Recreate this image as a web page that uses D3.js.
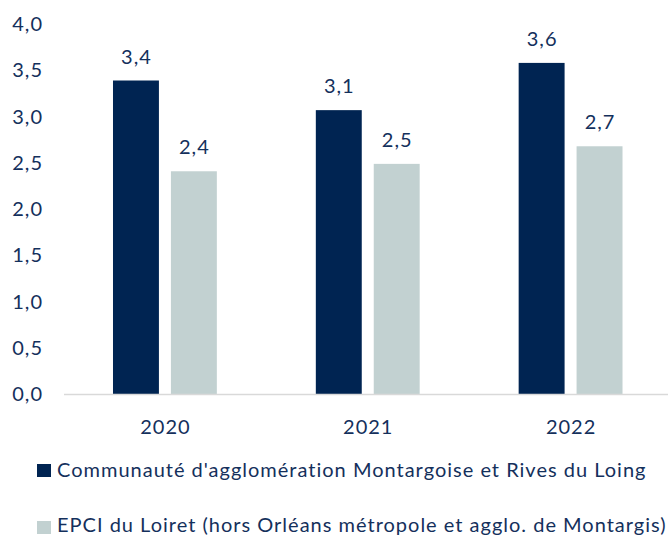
<!DOCTYPE html>
<html>
<head>
<meta charset="utf-8">
<script src="https://cdn.jsdelivr.net/npm/d3@7"></script>
<style>
  body { margin: 0; background: #fff; }
  svg text { font-family: Lato, "Open Sans", sans-serif; fill: #14305c; letter-spacing: 1px; }
</style>
</head>
<body>
<div id="chart"></div>
<script>
const years = ["2020", "2021", "2022"];
const seriesNames = [
    "Communauté d'agglomération Montargoise et Rives du Loing",
    "EPCI du Loiret (hors Orléans métropole et agglo. de Montargis)"
];
const agglo = [3.39, 3.07, 3.58];
const epci = [2.41, 2.49, 2.68];
const yTicks = [0, 0.5, 1, 1.5, 2, 2.5, 3, 3.5, 4];
const colors = ["#002452", "#c2d1d1"];

const width = 668, height = 536;
const fontSize = 20;

const svg = d3.select("#chart").append("svg")
    .attr("width", width)
    .attr("height", height);

const fmt = v => d3.format(".1f")(v).replace(".", ",");

const x0 = d3.scaleBand()
    .domain(years)
    .range([63.5, 672])
    .paddingInner(0.488)
    .paddingOuter(0.244);

const x1 = d3.scaleBand()
    .domain([0, 1])
    .range([0, x0.bandwidth()])
    .paddingInner(0.207);

const y = d3.scaleLinear()
    .domain([0, 4])
    .range([394.5, 24]);

const data = years.map((yr, i) => ({year: yr, values: [agglo[i], epci[i]]}));

// y tick labels only, no axis line
const yAxis = svg.append("g")
    .attr("transform", "translate(43,0)")
    .call(d3.axisLeft(y).tickValues(yTicks).tickFormat(fmt).tickSize(0).tickPadding(0));
yAxis.select(".domain").remove();
yAxis.selectAll("text")
    .attr("font-size", fontSize)
    .attr("font-family", null)
    .attr("fill", null);

// bars
const groups = svg.append("g")
    .selectAll("g")
    .data(data)
    .join("g")
    .attr("transform", d => `translate(${x0(d.year)},0)`);

groups.selectAll("rect")
    .data(d => d.values.map((v, k) => ({k, v})))
    .join("rect")
    .attr("x", d => x1(d.k))
    .attr("y", d => y(d.v))
    .attr("width", x1.bandwidth())
    .attr("height", d => y(0) - y(d.v))
    .attr("fill", d => colors[d.k]);

groups.selectAll("text.val")
    .data(d => d.values.map((v, k) => ({k, v})))
    .join("text")
    .attr("class", "val")
    .attr("x", d => x1(d.k) + x1.bandwidth() / 2 + 0.5)
    .attr("y", d => y(d.v) - 17)
    .attr("text-anchor", "middle")
    .attr("font-size", fontSize)
    .text(d => fmt(d.v));

// x axis
const xAxis = svg.append("g")
    .attr("transform", `translate(0,${y(0)})`)
    .call(d3.axisBottom(x0).tickSize(0).tickPadding(0));
xAxis.select(".domain").remove();
xAxis.selectAll("text")
    .attr("x", 0.5)
    .attr("y", 39)
    .attr("dy", null)
    .attr("font-size", fontSize)
    .attr("font-family", null)
    .attr("fill", null);

svg.append("line")
    .attr("x1", 64).attr("x2", 668)
    .attr("y1", y(0)).attr("y2", y(0))
    .attr("stroke", "#d9d9d9")
    .attr("stroke-width", 1.5);

// legend
const legend = svg.append("g")
    .selectAll("g")
    .data(seriesNames)
    .join("g")
    .attr("transform", (d, i) => `translate(37,${464 + i * 57})`);

legend.append("rect")
    .attr("width", 14)
    .attr("height", 13)
    .attr("fill", (d, i) => colors[i]);

legend.append("text")
    .attr("x", 20)
    .attr("y", (d, i) => 13 - i * 2)
    .attr("font-size", fontSize)
    .text(d => d);
</script>
</body>
</html>
